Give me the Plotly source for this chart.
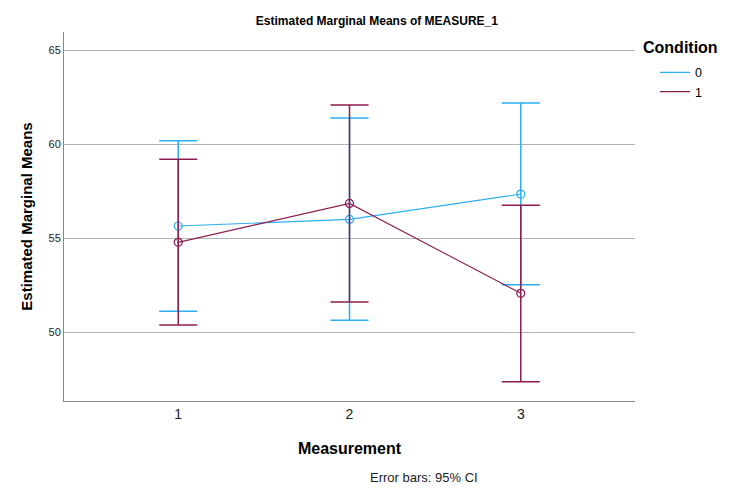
import plotly.graph_objects as go

measurement = [1, 2, 3]
cond0_mean = [55.64, 55.99, 57.34]
cond0_upper = [60.18, 61.38, 62.18]
cond0_lower = [51.10, 50.62, 52.52]
cond1_mean = [54.77, 56.84, 52.06]
cond1_upper = [59.19, 62.07, 56.74]
cond1_lower = [50.37, 51.60, 47.36]
y_ticks = [50, 55, 60, 65]

blue = "#2DAEF0"
maroon = "#8C1C50"

fig = go.Figure()
for name, mean, up, lo, col in [("0", cond0_mean, cond0_upper, cond0_lower, blue),
                                ("1", cond1_mean, cond1_upper, cond1_lower, maroon)]:
    fig.add_trace(go.Scatter(
        x=measurement, y=mean, name=name, mode="lines+markers", showlegend=False,
        line=dict(color=col, width=1.1),
        marker=dict(symbol="circle-open", size=8, color=col, line=dict(width=1.2)),
        error_y=dict(type="data", symmetric=False,
                     array=[u - m for u, m in zip(up, mean)],
                     arrayminus=[m - l for m, l in zip(mean, lo)],
                     color=col, thickness=1.5, width=19),
    ))
    # legend entry: line only
    fig.add_trace(go.Scatter(x=[None], y=[None], name=name, mode="lines",
                             line=dict(color=col, width=1.2)))

fig.update_layout(
    width=729, height=488,
    margin=dict(l=64, r=94, t=32, b=87),
    plot_bgcolor="white", paper_bgcolor="white",
    font=dict(family="Liberation Sans, Arial, sans-serif", color="black"),
    title=dict(text="<b>Estimated Marginal Means of MEASURE_1</b>", x=0.517, xanchor="center",
               y=0.958, yanchor="middle", font=dict(size=12)),
    legend=dict(x=1.035, xanchor="left", y=0.93, yanchor="top",
                font=dict(size=12.5), bgcolor="rgba(0,0,0,0)",
                tracegroupgap=0, itemwidth=30),
    xaxis=dict(range=[0.333, 3.667], tickvals=measurement, ticktext=["1", "2", "3"],
               showgrid=False, showline=True, linecolor="#888888", linewidth=1,
               ticks="", tickfont=dict(size=14, color="#222222"),
               title=dict(text="<b>Measurement</b>", font=dict(size=16), standoff=22),
               zeroline=False),
    yaxis=dict(range=[46.33, 65.96], tickvals=y_ticks,
               showgrid=True, gridcolor="#b4b4b4", gridwidth=1,
               showline=True, linecolor="#888888", linewidth=1,
               ticks="", tickfont=dict(size=11, color="#222222"),
               title=dict(text="<b>Estimated Marginal Means</b>", font=dict(size=15), standoff=12),
               zeroline=False),
    annotations=[
        dict(text="Error bars: 95% CI", xref="paper", yref="paper",
             x=0.63, y=-0.207, xanchor="center", yanchor="middle",
             showarrow=False, font=dict(size=13, color="#222222")),
        dict(text="<b>Condition</b>", xref="paper", yref="paper",
             x=1.011, y=1.0, xanchor="left", yanchor="middle", yshift=-15,
             showarrow=False, font=dict(size=16)),
    ],
)
fig.write_html("out.html", post_script="document.body.style.margin='0';",
               config={"displayModeBar": False})
